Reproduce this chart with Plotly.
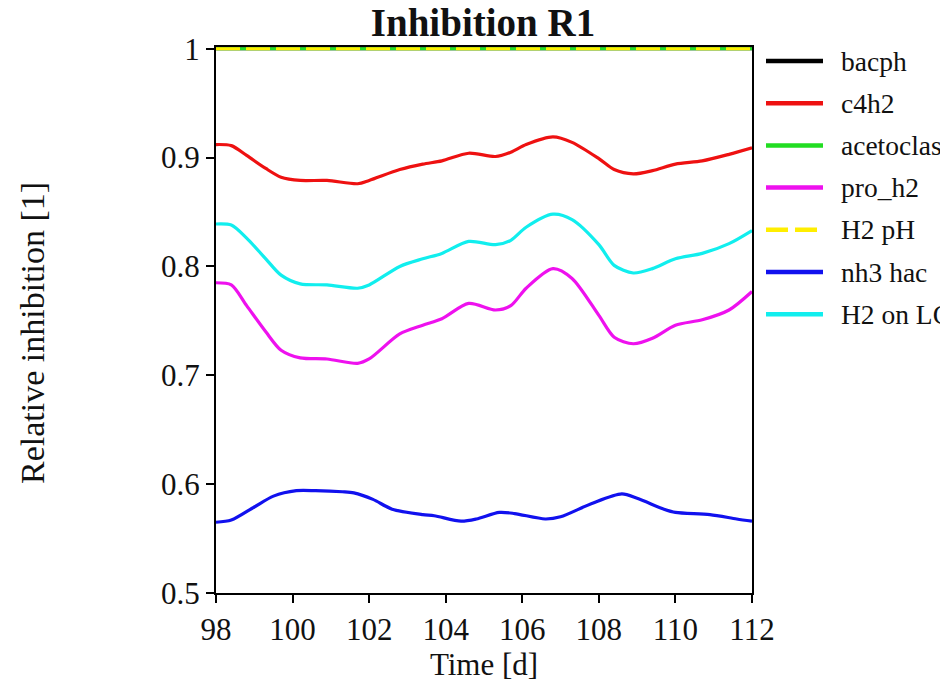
import plotly.graph_objects as go

# ---- data -------------------------------------------------------------
time_main = [98.0, 98.4, 98.8, 99.3, 99.7, 100.2, 100.9, 101.7, 102.0, 102.8,
             103.4, 103.9, 104.6, 105.3, 105.7, 106.1, 106.8, 107.3, 108.0,
             108.4, 108.9, 109.4, 110.0, 110.7, 111.4, 112.0]
c4h2 = [0.912, 0.911, 0.902, 0.890, 0.882, 0.879, 0.879, 0.876, 0.879, 0.889,
        0.894, 0.897, 0.904, 0.901, 0.905, 0.912, 0.919, 0.914, 0.899,
        0.889, 0.885, 0.888, 0.894, 0.897, 0.903, 0.909]
h2_lcfa = [0.839, 0.838, 0.826, 0.807, 0.792, 0.784, 0.783, 0.780, 0.783, 0.800,
           0.807, 0.812, 0.823, 0.820, 0.824, 0.836, 0.848, 0.843, 0.820,
           0.801, 0.794, 0.798, 0.807, 0.812, 0.821, 0.833]
pro_h2 = [0.785, 0.783, 0.764, 0.740, 0.723, 0.716, 0.715, 0.711, 0.715, 0.738,
          0.746, 0.752, 0.766, 0.760, 0.764, 0.780, 0.798, 0.789, 0.755,
          0.735, 0.729, 0.734, 0.746, 0.751, 0.760, 0.777]

time_nh3 = [98.0, 98.4, 99.0, 99.5, 100.1, 100.6, 101.3, 101.6, 102.1, 102.6,
            103.4, 103.7, 104.4, 104.8, 105.4, 105.8, 106.6, 107.0, 107.8,
            108.6, 109.0, 109.7, 110.0, 110.9, 111.6, 112.0]
nh3_hac = [0.565, 0.567, 0.579, 0.589, 0.594, 0.594, 0.593, 0.592, 0.586, 0.577,
           0.572, 0.571, 0.566, 0.568, 0.574, 0.573, 0.568, 0.570, 0.582,
           0.591, 0.587, 0.577, 0.574, 0.572, 0.568, 0.566]

time_const = [98.0, 112.0]
bacph = [1.0, 1.0]
acetoclast = [1.0, 1.0]
h2_ph = [1.0, 1.0]

series_names = ["bacph", "c4h2", "acetoclast", "pro_h2", "H2 pH", "nh3 hac", "H2 on LCFA"]
x_ticks = [98, 100, 102, 104, 106, 108, 110, 112]
y_ticks = [0.5, 0.6, 0.7, 0.8, 0.9, 1.0]
y_tick_text = ["0.5", "0.6", "0.7", "0.8", "0.9", "1"]

# ---- styling ----------------------------------------------------------
W, H = 940, 684
L, R, T, B = 216, 752, 47, 593
FONT = "Times New Roman"
INK = "#111111"

colors = ["#000000", "#ee1111", "#22dd22", "#ee11ee", "#ffee00", "#1111ee", "#11eeee"]
dashes = ["solid", "solid", "solid", "solid", "24px,6px", "solid", "solid"]
xs = [time_const, time_main, time_const, time_main, time_const, time_nh3, time_main]
ys = [bacph, c4h2, acetoclast, pro_h2, h2_ph, nh3_hac, h2_lcfa]


def paper_x(px):
    return (px - L) / (R - L)


def paper_y(py):
    return (B - py) / (B - T)


fig = go.Figure()
for name, x, y, c, d in zip(series_names, xs, ys, colors, dashes):
    fig.add_trace(go.Scatter(
        x=x, y=y, name=name, mode="lines",
        line=dict(color=c, width=3.2, dash=d, shape="spline", smoothing=0.8),
        showlegend=False,
    ))

# hand-placed legend to the right of the axes
shapes = []
annotations = []
legend_top, legend_step = 61, 42.2
for i, (name, c) in enumerate(zip(series_names, colors)):
    py = legend_top + i * legend_step
    is_dashed = dashes[i] != "solid"
    shapes.append(dict(
        type="line", xref="paper", yref="paper",
        x0=paper_x(766), x1=paper_x(817 if is_dashed else 823),
        y0=paper_y(py), y1=paper_y(py),
        line=dict(color=c, width=4.5, dash="22px,7px" if is_dashed else "solid"),
    ))
    annotations.append(dict(
        xref="paper", yref="paper", x=paper_x(839), y=paper_y(py),
        xanchor="left", yanchor="middle", showarrow=False,
        text=name, font=dict(family=FONT, size=27.5, color=INK),
    ))

# y-axis title
annotations.append(dict(
    xref="paper", yref="paper", x=paper_x(32), y=paper_y(333),
    xanchor="center", yanchor="middle", showarrow=False, textangle=-90,
    text="Relative inhibition [1]", font=dict(family=FONT, size=34, color=INK),
))

fig.update_layout(
    width=W, height=H,
    margin=dict(l=L, r=W - R, t=T, b=H - B, autoexpand=False),
    paper_bgcolor="white", plot_bgcolor="white",
    title=dict(text="Inhibition R1", x=paper_x(483), xref="paper", xanchor="center",
               y=1 - 9 / H, yref="container", yanchor="top",
               font=dict(family=FONT, size=39, color=INK, weight="bold")),
    shapes=shapes,
    annotations=annotations,
)
fig.update_xaxes(
    range=[98, 112], tickvals=x_ticks, ticks="outside", ticklen=8, tickwidth=2,
    tickcolor="black", showline=True, linewidth=2, linecolor="black", mirror=True,
    showgrid=False, zeroline=False,
    tickfont=dict(family=FONT, size=31, color=INK),
    title=dict(text="Time [d]", font=dict(family=FONT, size=31, color=INK), standoff=6),
)
fig.update_yaxes(
    range=[0.5, 1.0016], tickvals=y_ticks, ticktext=y_tick_text, ticks="outside",
    ticklen=8, tickwidth=2, tickcolor="black", showline=True, linewidth=2,
    linecolor="black", mirror=True, showgrid=False, zeroline=False,
    tickfont=dict(family=FONT, size=31, color=INK),
)

fig.write_html("out.html")
